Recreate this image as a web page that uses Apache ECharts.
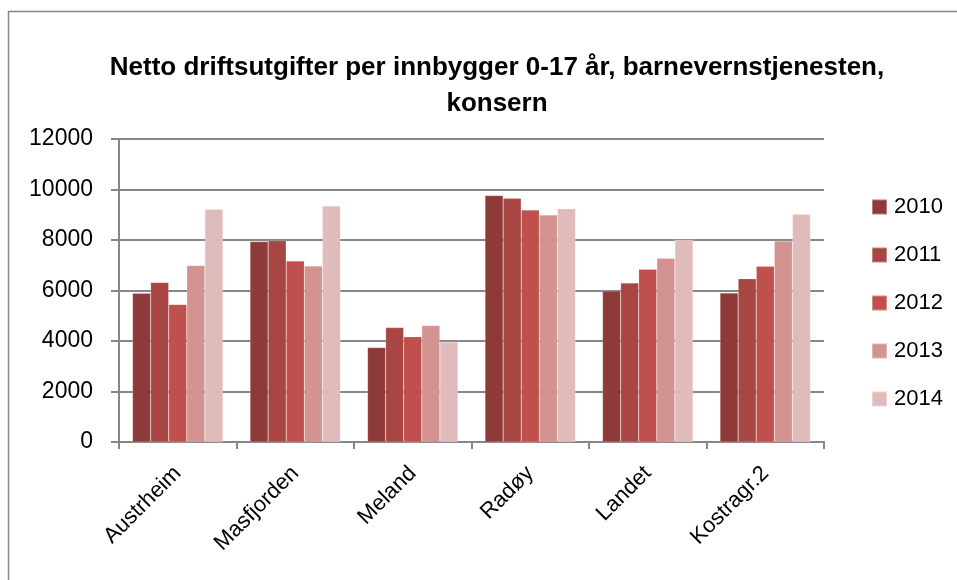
<!DOCTYPE html>
<html>
<head>
<meta charset="utf-8">
<script src="https://cdn.jsdelivr.net/npm/echarts@6/dist/echarts.min.js"></script>
<style>
  html, body { margin: 0; padding: 0; background: #fff; }
  #chart { width: 957px; height: 580px; }
</style>
</head>
<body>
<div id="chart"></div>
<script>
// kommuner / grupper
const categories = ['Austrheim', 'Masfjorden', 'Meland', 'Radøy', 'Landet', 'Kostragr.2']
const years = ['2010', '2011', '2012', '2013', '2014']
// verdier per år (kr per innbygger 0-17 år)
const v2010 = [5890, 7940, 3740, 9760, 5980, 5900]
const v2011 = [6320, 7970, 4530, 9650, 6300, 6470]
const v2012 = [5450, 7170, 4170, 9190, 6840, 6960]
const v2013 = [6990, 6970, 4610, 8990, 7280, 7960]
const v2014 = [9220, 9350, 3960, 9240, 8010, 9020]
const yTicks = [0, 2000, 4000, 6000, 8000, 10000, 12000]

const colors = ['#8E3A38', '#A84644', '#C0504D', '#D39391', '#E0BBBB']
const allValues = [v2010, v2011, v2012, v2013, v2014]

const chart = echarts.init(document.getElementById('chart'))
const font = 'Liberation Sans, Arial, sans-serif'

chart.setOption({
  animation: false,
  color: colors,
  graphic: [{
    type: 'rect',
    shape: { x: 8.5, y: 11.5, width: 960, height: 600 },
    style: { fill: 'none', stroke: '#878787', lineWidth: 1.5 }
  }],
  title: {
    text: 'Netto driftsutgifter per innbygger 0-17 år, barnevernstjenesten,\nkonsern',
    left: 492,
    textAlign: 'center',
    top: 45,
    textStyle: { fontFamily: font, fontWeight: 'bold', fontSize: 26, lineHeight: 36, color: '#000' }
  },
  legend: {
    orient: 'vertical',
    left: 866,
    top: 191,
    itemWidth: 15,
    itemHeight: 15,
    itemGap: 26,
    icon: 'rect',
    textStyle: { fontFamily: font, fontSize: 22, color: '#000', padding: [0, 0, 0, 2] },
    data: years
  },
  grid: { left: 119, right: 133, top: 139, bottom: 138 },
  xAxis: {
    type: 'category',
    data: categories,
    axisLine: { lineStyle: { color: '#878787', width: 2 } },
    axisTick: { show: true, interval: 0, length: 7, lineStyle: { color: '#878787', width: 2 } },
    axisLabel: { rotate: 45, interval: 0, fontFamily: font, fontSize: 22, color: '#000', margin: 28 }
  },
  yAxis: {
    type: 'value',
    min: yTicks[0],
    max: yTicks[yTicks.length - 1],
    interval: 2000,
    axisLine: { show: true, lineStyle: { color: '#878787', width: 2 } },
    axisTick: { show: true, length: 8, lineStyle: { color: '#878787', width: 2 } },
    axisLabel: { fontFamily: font, fontSize: 23, color: '#000', margin: 26, formatter: v => String(v) },
    splitLine: { lineStyle: { color: '#878787', width: 2 } }
  },
  series: years.map((y, i) => ({
    name: y,
    type: 'bar',
    barGap: '0%',
    barCategoryGap: '23%',
    data: allValues[i],
    itemStyle: { color: colors[i], borderColor: 'rgba(255,255,255,0.35)', borderWidth: 0.5 }
  }))
})
</script>
</body>
</html>
